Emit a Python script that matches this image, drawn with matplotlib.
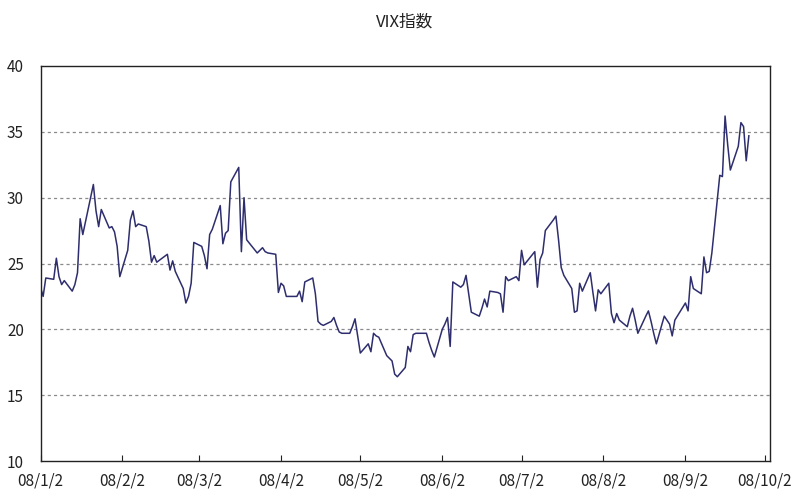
import pandas as pd
import matplotlib
matplotlib.use('Agg')
import matplotlib.pyplot as plt
import matplotlib.dates as mdates

plt.rcParams['font.family'] = ['Noto Sans CJK JP', 'DejaVu Sans']

# VIX closes, 2008 trading days
vix = [
    # Jan
    23.2, 22.5, 23.9, 23.8, 25.4, 24.0, 23.4, 23.7, 22.9, 23.4, 24.3,
    28.4, 27.2, 31.0, 29.0, 27.8, 29.1, 27.7, 27.8, 27.4, 26.3,
    # Feb
    24.0, 26.0, 28.3, 29.0, 27.8, 28.0, 27.8, 26.7, 25.1, 25.6,
    25.1, 25.7, 24.5, 25.2, 24.4, 23.1, 22.0, 22.5, 23.5, 26.6,
    # Mar
    26.3, 25.6, 24.6, 27.2, 27.6, 29.4, 26.5, 27.3, 27.5, 31.2,
    32.3, 25.9, 30.0, 26.8, 25.8, 26.0, 26.2, 25.9, 25.8, 25.7,
    # Apr
    22.8, 23.5, 23.3, 22.5, 22.5, 22.5, 22.9, 22.1, 23.6, 23.9, 22.7,
    20.6, 20.4, 20.3, 20.6, 20.9, 20.3, 19.8, 19.7, 19.7, 20.2, 20.8,
    # May
    19.5, 18.2, 18.9, 18.3, 19.7, 19.5, 19.4, 18.0, 17.8, 17.6, 16.6,
    16.4, 17.1, 18.7, 18.3, 19.6, 19.7, 19.7, 19.0, 18.4, 17.9,
    # Jun
    20.0, 20.4, 20.9, 18.7, 23.6, 23.2, 23.4, 24.1, 22.7, 21.3, 21.0,
    21.6, 22.3, 21.7, 22.9, 22.8, 22.7, 21.3, 24.0, 23.7, 24.0,
    # Jul
    23.7, 26.0, 24.9, 25.9, 23.2, 25.3, 25.8, 27.5, 28.3, 28.6, 26.8,
    24.7, 24.1, 23.1, 21.3, 21.4, 23.5, 22.9, 24.3, 22.8, 21.4, 23.0,
    # Aug
    22.7, 23.5, 21.2, 20.5, 21.2, 20.7, 20.2, 21.0, 21.6, 20.7, 19.7,
    21.0, 21.4, 20.6, 19.7, 18.9, 21.0, 20.7, 20.4, 19.5, 20.7,
    # Sep
    22.0, 21.4, 24.0, 23.1, 22.7, 25.5, 24.3, 24.4, 25.8, 31.7,
    31.6, 36.2, 34.0, 32.1, 33.9, 35.7, 35.4, 32.8, 34.7,
]

holidays = ['2008-01-21', '2008-02-18', '2008-03-21',
            '2008-05-26', '2008-07-04', '2008-09-01']
dates = pd.bdate_range('2008-01-02', '2008-09-26', freq='C', holidays=holidays)

tick_dates = pd.to_datetime(['2008-01-02', '2008-02-02', '2008-03-02', '2008-04-02',
                             '2008-05-02', '2008-06-02', '2008-07-02', '2008-08-02',
                             '2008-09-02', '2008-10-02'])
tick_labels = ['08/1/2', '08/2/2', '08/3/2', '08/4/2', '08/5/2',
               '08/6/2', '08/7/2', '08/8/2', '08/9/2', '08/10/2']
y_ticks = [10, 15, 20, 25, 30, 35, 40]

fig = plt.figure(figsize=(8.1, 4.96), dpi=100)
ax = fig.add_axes([40.5 / 810, 35 / 496, (770 - 40.5) / 810, (461 - 66) / 496])

ax.plot(dates, vix, color='#2e2e6e', linewidth=1.1)

ax.set_xlim(pd.Timestamp('2008-01-02'), pd.Timestamp('2008-10-04'))
ax.set_ylim(10, 40)
ax.set_yticks(y_ticks)
ax.set_xticks(tick_dates)
ax.set_xticklabels(tick_labels)

for y in y_ticks[1:-1]:
    ax.axhline(y, color='#8a8a8a', linewidth=0.9, linestyle=(0, (2.5, 2.5)), zorder=0)

ax.tick_params(axis='x', direction='in', length=4, pad=8, labelsize=11, colors='#222222')
ax.tick_params(axis='y', length=0, pad=12, labelsize=11, colors='#222222')
for s in ax.spines.values():
    s.set_color('#222222')
    s.set_linewidth(1.0)

fig.text(0.5, 1 - 22 / 496, 'VIX指数', ha='center', va='center', fontsize=12, color='#222222')

fig.savefig('out.png', dpi=100)
